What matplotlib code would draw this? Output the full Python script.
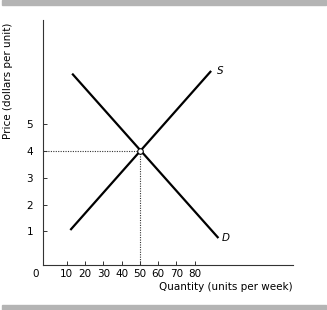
import matplotlib
matplotlib.use("Agg")
import matplotlib.pyplot as plt
from matplotlib.patches import Rectangle

# supply and demand lines (quantity, price)
supply_q = [12, 89]
supply_p = [1.05, 7.0]
demand_q = [13, 93]
demand_p = [6.9, 0.75]
eq_q, eq_p = 50, 4
x_ticks = [10, 20, 30, 40, 50, 60, 70, 80]
y_ticks = [1, 2, 3, 4, 5]

fig = plt.figure(figsize=(3.27, 3.10), dpi=100)
# grey bands top and bottom
fig.patches.append(Rectangle((0.006, 0.984), 0.99, 0.016, transform=fig.transFigure,
                             color="#b4b4b4", zorder=0))
fig.patches.append(Rectangle((0.006, 0.0), 0.99, 0.016, transform=fig.transFigure,
                             color="#b4b4b4", zorder=0))

ax = fig.add_axes([0.1306, 0.145, 0.765, 0.790])
ax.plot(supply_q, supply_p, color="black", lw=1.6, solid_capstyle="butt")
ax.plot(demand_q, demand_p, color="black", lw=1.6, solid_capstyle="butt")
ax.plot([-3.1, eq_q], [eq_p, eq_p], color="#333333", lw=0.8, ls=(0, (1, 1.2)))
ax.plot([eq_q, eq_q], [eq_p, -0.26], color="#333333", lw=0.8, ls=(0, (1, 1.2)))
ax.plot(eq_q, eq_p, "o", ms=4, mfc="white", mec="black", mew=0.8, zorder=5)

ax.text(supply_q[1] + 3, supply_p[1], "S", style="italic", fontsize=7.5, va="center")
ax.text(demand_q[1] + 2, demand_p[1], "D", style="italic", fontsize=7.5, va="center")

ax.set_xlim(-3.1, 133.7)
ax.set_ylim(-0.26, 8.9)
ax.set_xticks(x_ticks)
ax.set_yticks(y_ticks)
ax.tick_params(direction="in", length=3, width=0.7, colors="#333333", labelsize=7.5,
               labelcolor="black")
ax.tick_params(axis="x", pad=3)
ax.tick_params(axis="y", pad=7)
ax.annotate("0", xy=(-7, -0.26), xytext=(0, -3), textcoords="offset points",
            fontsize=7.5, ha="center", va="top", annotation_clip=False)
for s in ["top", "right"]:
    ax.spines[s].set_visible(False)
for s in ["left", "bottom"]:
    ax.spines[s].set_color("#333333")
    ax.spines[s].set_linewidth(0.8)

fig.text(0.024, 0.74, "Price (dollars per unit)", rotation=90, fontsize=7.5,
         ha="center", va="center")
fig.text(0.895, 0.074, "Quantity (units per week)", fontsize=7.5, ha="right", va="center")

fig.savefig("out.png", dpi=100)
